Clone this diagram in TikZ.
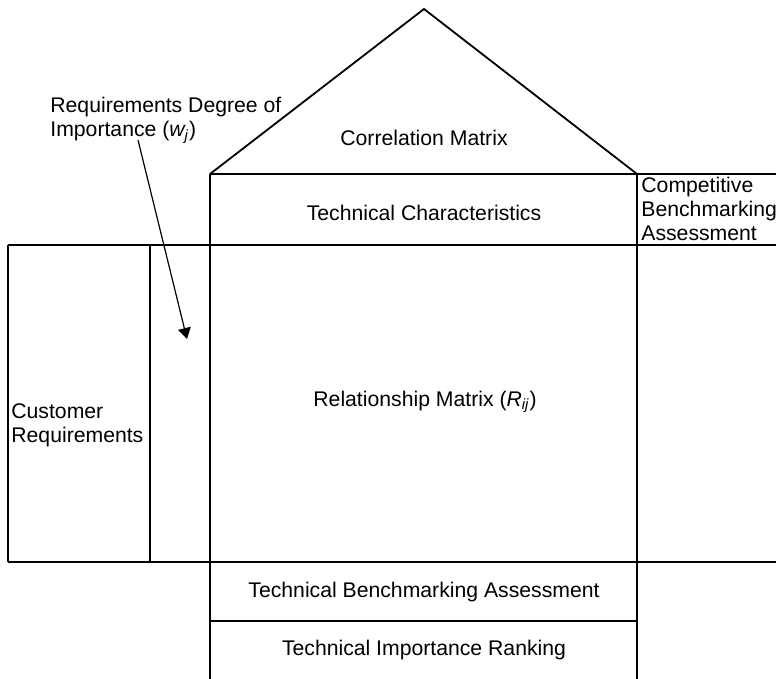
\documentclass[tikz,border=0pt]{standalone}
\usepackage{fontspec}
\setmainfont{Liberation Sans}
\usetikzlibrary{arrows.meta,positioning}

\begin{document}
\begin{tikzpicture}[
    x=0.5pt, y=-0.5pt,
    wall/.style={line width=0.9pt},
    hqtext/.style={font=\fontsize{10.6}{12}\selectfont, inner sep=0pt},
    pointer/.style={-{Triangle[length=5.5pt,width=6.5pt]}, line width=0.6pt},
]
\useasboundingbox (0,0) rectangle (776,679);

% -----------------------------------------------
% corner points of the house
% -----------------------------------------------
\coordinate (apex) at (424,9);
\coordinate (eaveL) at (210,174);
\coordinate (eaveR) at (637,174);
\coordinate (floorL) at (210,679);
\coordinate (floorR) at (637,679);

% roof
\draw[wall] (eaveL) -- (apex) -- (eaveR);

% horizontal rules
\draw[wall] (eaveL) -- (776,174);
\draw[wall] (8,245) -- (776,245);
\draw[wall] (8,562) -- (776,562);
\draw[wall] (210,621) -- (637,621);

% vertical rules
\draw[wall] (8,245) -- (8,562);
\draw[wall] (150,245) -- (150,562);
\draw[wall] (eaveL) -- (floorL);
\draw[wall] (eaveR) -- (floorR);

% -----------------------------------------------
% room labels
% -----------------------------------------------
\node[hqtext] (corr) at (424,138) {Correlation Matrix};
\node[hqtext] (techchar) at (424,213) {Technical Characteristics};
\node[hqtext, anchor=north west, align=left] (compbench) at (641,177)
    {Competitive\\Benchmarking\\Assessment};
\node[hqtext, anchor=north west, align=left] (custreq) at (11,403)
    {Customer\\Requirements};
\node[hqtext] (relmat) at (425,402) {Relationship Matrix (\textit{R\textsubscript{ij}})};
\node[hqtext] (techbench) at (424,592) {Technical Benchmarking Assessment};
\node[hqtext] (techrank) at (424,650) {Technical Importance Ranking};

% importance column callout
\node[hqtext, anchor=north west, align=left] (weight) at (50,97)
    {Requirements Degree of\\Importance (\textit{w\textsubscript{j}})};
\coordinate (wtail) at (138,140);
\coordinate (whead) at (187,339);
\draw[pointer] (wtail) -- (whead);

\end{tikzpicture}
\end{document}
